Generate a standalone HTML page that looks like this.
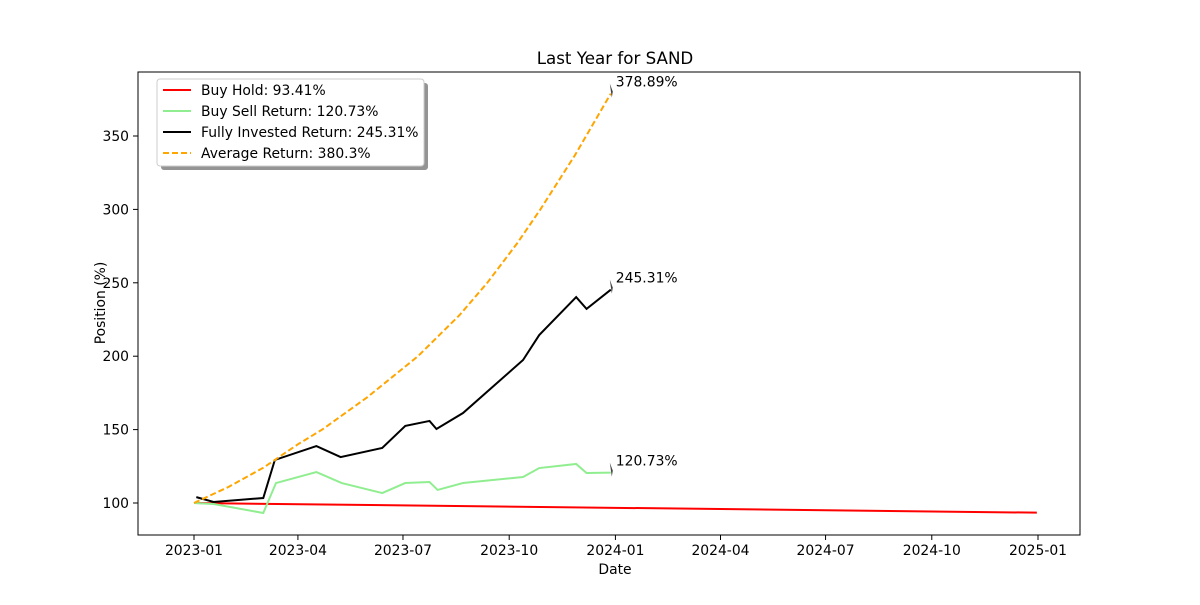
<!DOCTYPE html>
<html><head><meta charset="utf-8"><style>
body{margin:0;background:#fff;font-family:"Liberation Sans","DejaVu Sans",sans-serif}
svg text{font-family:"DejaVu Sans","Liberation Sans",sans-serif}
</style></head><body>
<svg id="chart" width="1200" height="600" xmlns="http://www.w3.org/2000/svg">
<rect width="1200" height="600" fill="#fff"/>
<text x="615" y="64" font-size="16.7" text-anchor="middle">Last Year for SAND</text>
<g id="plot"></g>
<rect x="138" y="72" width="942" height="463" fill="none" stroke="#000" stroke-width="1"/>
<text x="615" y="574" font-size="13.9" text-anchor="middle">Date</text>
<text transform="translate(105,303) rotate(-90)" font-size="13.9" text-anchor="middle">Position (%)</text>
<g>
<rect x="161" y="83" width="267" height="87" rx="3" fill="#888" opacity="0.9"/>
<rect x="157" y="79" width="267" height="87" rx="3" fill="#fff" stroke="#ccc"/>
<line x1="163" y1="90" x2="191" y2="90" stroke="red" stroke-width="2"/><text x="201" y="95" font-size="13.9">Buy Hold: 93.41%</text>
<line x1="163" y1="111" x2="191" y2="111" stroke="lightgreen" stroke-width="2"/><text x="201" y="116" font-size="13.9">Buy Sell Return: 120.73%</text>
<line x1="163" y1="132" x2="191" y2="132" stroke="#000" stroke-width="2"/><text x="201" y="137" font-size="13.9">Fully Invested Return: 245.31%</text>
<line x1="163" y1="153" x2="191" y2="153" stroke="orange" stroke-width="2" stroke-dasharray="6,3"/><text x="201" y="158" font-size="13.9">Average Return: 380.3%</text>
</g>
</svg>
<script>
// day offsets from 2023-01-01
const xTickLabels=["2023-01","2023-04","2023-07","2023-10","2024-01","2024-04","2024-07","2024-10","2025-01"];
const xTickDays=[0,90,181,273,365,456,547,639,731];
const yTicks=[100,150,200,250,300,350];
const buyHoldDays=[0,730];
const buyHoldVals=[100,93.41];
const fullDays=[2,17,60,70,106,127,163,183,204,210,233,285,299,331,340,361];
const fullVals=[104,100.7,103.4,129.3,138.8,131.3,137.5,152.5,155.9,150.4,161.3,197.4,214.4,240.3,232.2,245.31];
const sellDays=[0,17,60,71,106,128,163,183,204,211,233,285,299,331,340,361];
const sellVals=[100,99.3,93.2,113.6,121.1,113.6,106.8,113.6,114.3,108.9,113.6,117.7,123.8,126.6,120.4,120.73];
const avgDays=[0,30,60,90,111,150,194,230,254,280,300,330,361];
const avgVals=[100,111,124,140,150,172,200,228,250,277,300,337,378.89];
const annotations=[["378.89%",361,378.89],["245.31%",361,245.31],["120.73%",361,120.73]];

const NS="http://www.w3.org/2000/svg";
const plot=document.getElementById('plot');
const X=d=>194+d*(844/731);
const Y=v=>503-(v-100)*1.468;
function mk(tag,attrs){const e=document.createElementNS(NS,tag);for(const k in attrs)e.setAttribute(k,attrs[k]);plot.appendChild(e);return e;}
xTickDays.forEach((d,i)=>{
  const t=mk('line',{x1:X(d),x2:X(d),y1:535,y2:540,stroke:'#000'});
  
  
  const l=mk('text',{x:X(d),y:555,'font-size':13.9,'text-anchor':'middle'});l.textContent=xTickLabels[i];
  
  
});
yTicks.forEach(v=>{
  const t=mk('line',{x1:133,x2:138,y1:Y(v),y2:Y(v),stroke:'#000'});
  
  
  const l=mk('text',{x:129,y:Y(v)+5,'font-size':13.9,'text-anchor':'end'});l.textContent=v;
  
  
});
function line(days,vals,color,dash,name){
  const p=mk('polyline',{points:days.map((d,i)=>X(d)+','+Y(vals[i])).join(' '),fill:'none',stroke:color,'stroke-width':2});
  if(dash)p.setAttribute('stroke-dasharray',dash);
  
  
}
line(buyHoldDays,buyHoldVals,'red',null,'buy-hold-line');
line(sellDays,sellVals,'lightgreen',null,'buy-sell-line');
line(fullDays,fullVals,'#000',null,'fully-invested-line');
line(avgDays,avgVals,'orange','6,3','average-return-line');
annotations.forEach(a=>{
  const x=X(a[1]),y=Y(a[2]);
  const m=mk('path',{d:`M${x-1},${y-10} L${x+2},${y-2} L${x+1},${y+4} Z`,fill:'#444'});
  
  
  const t=mk('text',{x:x+5,y:y-7,'font-size':13.9});t.textContent=a[0];
  
  
});
</script>
</body></html>
